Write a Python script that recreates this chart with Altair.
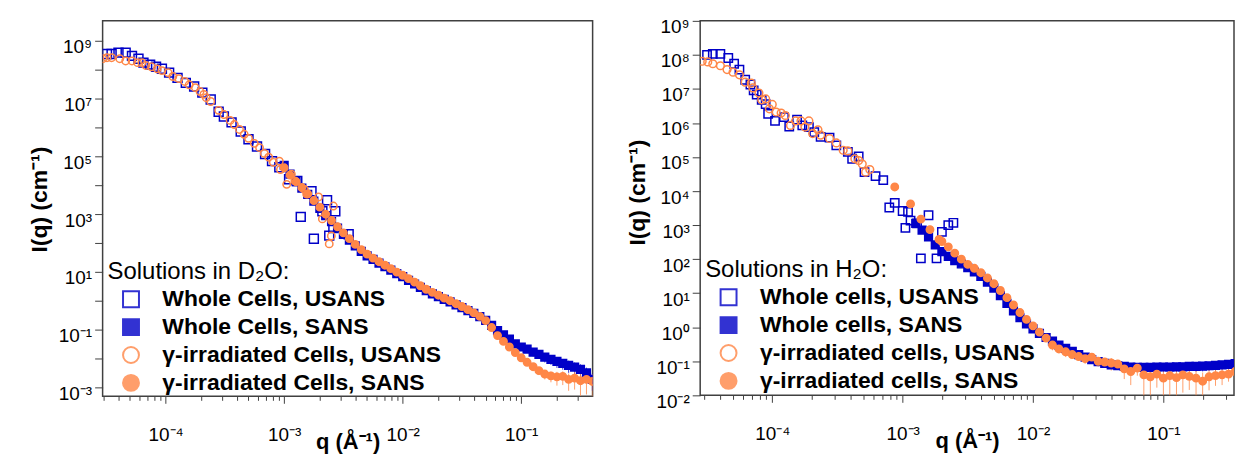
import altair as alt
import pandas as pd

FONT = "Liberation Sans"
BLUE = "#0000C8"
ORANGE = "#FF8747"
FRAME = "#404040"

# ----------------------------- D2O panel (left) -----------------------------
d2o_names = ["Whole Cells, USANS", "Whole Cells, SANS",
             "γ-irradiated Cells, USANS", "γ-irradiated Cells, SANS"]

d2o_whole_usans_q = [3.2e-5, 3.5e-5, 4.0e-5, 4.6e-5, 5.2e-5, 5.9e-5, 6.5e-5, 7.4e-5, 8.3e-5, 9.3e-5,
                     1.07e-4, 1.26e-4, 1.48e-4, 1.74e-4, 2.04e-4, 2.4e-4, 2.8e-4, 3.1e-4, 3.6e-4, 4.3e-4,
                     5.0e-4, 5.9e-4, 6.9e-4, 7.9e-4, 9.1e-4, 1.1e-3, 1.29e-3, 1.38e-3, 1.7e-3, 2.1e-3,
                     2.3e-3, 2.7e-3, 2.6e-3, 1.78e-3, 2.4e-3, 3.5e-3]
d2o_whole_usans_I = [3.5e8, 3.5e8, 3.9e8, 3.9e8, 3.0e8, 2.4e8, 1.75e8, 1.5e8, 1.26e8, 1.07e8,
                     7.9e7, 5.2e7, 3.5e7, 2.6e7, 1.6e7, 9.3e6, 3.5e6, 2.4e6, 1.5e6, 7.2e5,
                     3.9e5, 2.2e5, 1.2e5, 6.8e4, 4.2e4, 1.6e4, 1.4e4, 8.0e2, 6.2e3, 1.26e3,
                     3.0e3, 1.26e3, 3.3e2, 1.4e2, 1.8e2, 2.0e2]

d2o_gamma_usans_q = [2.95e-5, 3.2e-5, 3.5e-5, 4.1e-5, 4.6e-5, 5.2e-5, 5.8e-5, 6.3e-5, 6.8e-5, 7.6e-5,
                     8.5e-5, 9.3e-5, 1.05e-4, 1.15e-4, 1.29e-4, 1.45e-4, 1.58e-4, 1.78e-4, 1.95e-4, 2.1e-4,
                     2.2e-4, 2.4e-4, 2.8e-4, 3.1e-4, 3.5e-4, 3.8e-4, 4.2e-4, 4.6e-4, 5.0e-4, 5.6e-4,
                     6.2e-4, 6.8e-4, 7.4e-4, 8.1e-4, 9.1e-4, 9.3e-4,
                     1.05e-3, 1.15e-3, 1.23e-3, 1.48e-3, 1.55e-3, 1.95e-3, 2.1e-3, 2.6e-3, 2.5e-3, 2.4e-3]
d2o_gamma_usans_I = [2.4e8, 2.6e8, 2.6e8, 2.4e8, 2.0e8, 2.0e8, 1.75e8, 1.75e8, 1.4e8, 1.26e8,
                     1.07e8, 9.3e7, 7.9e7, 5.8e7, 4.9e7, 3.9e7, 3.0e7, 2.4e7, 1.75e7, 1.4e7,
                     1.07e7, 7.9e6, 3.9e6, 2.8e6, 1.75e6, 1.26e6, 8.5e5, 5.8e5, 4.2e5, 2.8e5,
                     2.0e5, 1.26e5, 9.3e4, 6.2e4, 6.8e4, 3.5e4,
                     1.07e4, 2.4e4, 1.4e4, 7.2e3, 4.9e3, 3.9e3, 6.8e2, 1.9e3, 1.75e2, 93]

d2o_sans_q = [1.00e-3, 1.12e-3, 1.26e-3, 1.41e-3, 1.58e-3, 1.78e-3, 2.00e-3, 2.24e-3, 2.51e-3, 2.82e-3,
              3.16e-3, 3.55e-3, 3.98e-3, 4.47e-3, 5.01e-3, 5.62e-3, 6.31e-3, 7.08e-3, 7.94e-3, 8.91e-3,
              1.00e-2, 1.12e-2, 1.26e-2, 1.41e-2, 1.58e-2, 1.78e-2, 2.00e-2, 2.24e-2, 2.51e-2, 2.82e-2,
              3.16e-2, 3.55e-2, 3.98e-2, 4.47e-2, 5.01e-2, 5.62e-2, 6.31e-2, 7.08e-2, 7.94e-2, 8.91e-2,
              0.100, 0.112, 0.126, 0.141, 0.158, 0.178, 0.200, 0.224, 0.251, 0.282,
              0.316, 0.355, 0.398]
d2o_whole_sans_I = [4.9e4, 2.4e4, 1.32e4, 7.9e3, 4.8e3, 2.8e3, 1.58e3, 890, 550, 330,
                    200, 126, 79, 51, 36, 27, 20, 15, 11.5, 8.7,
                    6.8, 5.1, 3.8, 2.9, 2.24, 1.74, 1.38, 1.12, 0.91, 0.72,
                    0.575, 0.457, 0.363, 0.282, 0.209, 0.141, 0.093, 0.066, 0.047, 0.032,
                    0.025, 0.021, 0.0166, 0.0138, 0.0112, 0.0093, 0.0079, 0.0068, 0.0058, 0.0050,
                    0.0042, 0.0032, 0.0019]
d2o_whole_sans_err = [0.0] * 36 + [0.05, 0.08, 0.1, 0.15, 0.2, 0.25, 0.3, 0.3, 0.35, 0.35,
                                   0.4, 0.4, 0.45, 0.45, 0.5, 0.5, 0.6]
d2o_gamma_sans_I = [4.0e4, 2.24e4, 1.32e4, 8.3e3, 5.0e3, 2.95e3, 1.74e3, 1.0e3, 600, 363,
                    224, 141, 89, 59, 41, 30, 22.4, 17, 12.9, 9.8,
                    7.6, 5.8, 4.4, 3.3, 2.5, 1.95, 1.55, 1.23, 1.0, 0.79,
                    0.63, 0.49, 0.38, 0.288, 0.205, 0.118, 0.062, 0.039, 0.025, 0.0160,
                    0.0106, 0.0074, 0.0052, 0.0038, 0.0029, 0.0025, 0.0023, 0.0024, 0.0019, 0.0021,
                    0.0017, 0.0019, 0.0016]
d2o_gamma_sans_err = [0.0] * 40 + [0.1, 0.15, 0.2, 0.3, 0.35, 0.4, 0.5, 0.5, 0.6, 0.6,
                                   0.7, 0.7, 0.8]

# ----------------------------- H2O panel (right) -----------------------------
h2o_names = ["Whole cells, USANS", "Whole cells, SANS",
             "γ-irradiated cells, USANS", "γ-irradiated cells, SANS"]

h2o_whole_usans_q = [3.16e-5, 3.5e-5, 4.0e-5, 4.6e-5, 5.1e-5, 5.6e-5, 6.2e-5, 6.8e-5, 7.2e-5, 7.6e-5,
                     8.3e-5, 8.9e-5, 9.3e-5, 1.05e-4, 1.23e-4, 1.35e-4, 1.55e-4, 1.70e-4, 1.91e-4, 2.1e-4,
                     2.35e-4, 2.75e-4, 3.1e-4, 3.8e-4, 4.1e-4, 4.6e-4, 5.1e-4, 6.2e-4, 7.1e-4, 7.9e-4,
                     8.7e-4, 1.0e-3, 1.1e-3, 1.15e-3, 1.05e-3, 1.29e-3, 1.58e-3, 2.0e-3, 2.24e-3, 2.45e-3,
                     1.38e-3, 1.82e-3]
h2o_whole_usans_I = [1.0e8, 1.07e8, 1.07e8, 8.1e7, 5.5e7, 3.7e7, 1.86e7, 1.35e7, 9.1e6, 6.8e6,
                     4.8e6, 3.6e6, 1.86e6, 1.15e6, 1.48e6, 7.9e5, 1.26e6, 8.5e5, 7.6e5, 5.4e5,
                     3.9e5, 3.7e5, 2.2e5, 1.41e5, 8.9e4, 1.05e5, 3.6e4, 2.75e4, 2.1e4, 3.3e3,
                     4.5e3, 2.6e3, 2.45e3, 1.35e3, 830, 1.12e3, 1.95e3, 630, 1.0e3, 1.17e3,
                     105, 105]

h2o_gamma_usans_q = [2.9e-5, 3.2e-5, 3.5e-5, 4.0e-5, 4.5e-5, 5.0e-5, 5.6e-5, 6.2e-5, 6.9e-5, 7.1e-5,
                     7.9e-5, 8.3e-5, 8.9e-5, 1.0e-4, 9.5e-5, 1.07e-4, 1.17e-4, 1.26e-4, 1.38e-4, 1.51e-4,
                     1.66e-4, 1.78e-4, 1.91e-4, 2.04e-4, 2.24e-4, 2.35e-4, 2.75e-4, 3.1e-4, 3.5e-4, 3.8e-4,
                     4.3e-4, 4.6e-4, 4.9e-4, 5.2e-4, 5.6e-4]
h2o_gamma_usans_I = [6.5e7, 6.2e7, 5.5e7, 4.8e7, 3.7e7, 3.1e7, 2.6e7, 1.58e7, 1.48e7, 1.07e7,
                     7.6e6, 4.8e6, 5.1e6, 3.5e6, 2.6e6, 2.1e6, 1.95e6, 1.66e6, 8.5e5, 1.15e6,
                     1.15e6, 7.6e5, 1.15e6, 4.9e5, 6.3e5, 4.4e5, 3.5e5, 2.6e5, 1.58e5, 1.51e5,
                     8.9e4, 7.9e4, 6.2e4, 3.6e4, 4.3e4]

h2o_whole_sans_q = [1.26e-3, 1.41e-3, 1.58e-3, 1.78e-3, 2.00e-3, 2.24e-3, 2.51e-3, 2.82e-3,
                    3.16e-3, 3.55e-3, 3.98e-3, 4.47e-3, 5.01e-3, 5.62e-3, 6.31e-3, 7.08e-3, 7.94e-3, 8.91e-3,
                    1.00e-2, 1.12e-2, 1.26e-2, 1.41e-2, 1.58e-2, 1.78e-2, 2.00e-2, 2.24e-2, 2.51e-2, 2.82e-2,
                    3.16e-2, 3.55e-2, 3.98e-2, 4.47e-2, 5.01e-2, 5.62e-2, 6.31e-2, 7.08e-2, 7.94e-2, 8.91e-2,
                    0.100, 0.112, 0.126, 0.141, 0.158, 0.178, 0.200, 0.224, 0.251, 0.282, 0.316, 0.355]
h2o_whole_sans_I = [1120, 710, 450, 263, 166, 120, 91, 72,
                    56, 42, 31, 21, 14.1, 8.5, 5.0, 3.0, 1.9, 1.26,
                    0.89, 0.66, 0.50, 0.39, 0.30, 0.24, 0.195, 0.158, 0.132, 0.112,
                    0.098, 0.087, 0.079, 0.074, 0.071, 0.068, 0.066, 0.066, 0.066, 0.068,
                    0.068, 0.068, 0.069, 0.069, 0.071, 0.071, 0.072, 0.074, 0.076, 0.078, 0.081, 0.085]
h2o_whole_sans_err = [0.0] * 28 + [0.1, 0.12, 0.15, 0.18, 0.2, 0.22, 0.25, 0.25, 0.28, 0.3,
                                   0.3, 0.3, 0.3, 0.3, 0.3, 0.3, 0.3, 0.3, 0.3, 0.3, 0.3, 0.3]

h2o_gamma_sans_q = [8.7e-4, 1.15e-3, 1.38e-3, 1.62e-3, 1.9e-3,
                    2.00e-3, 2.24e-3, 2.51e-3, 2.82e-3,
                    3.16e-3, 3.55e-3, 3.98e-3, 4.47e-3, 5.01e-3, 5.62e-3, 6.31e-3, 7.08e-3, 7.94e-3, 8.91e-3,
                    1.00e-2, 1.12e-2, 1.26e-2, 1.41e-2, 1.58e-2, 1.78e-2, 2.00e-2, 2.24e-2, 2.51e-2, 2.82e-2,
                    3.16e-2, 3.55e-2, 3.98e-2, 4.47e-2, 5.01e-2, 5.62e-2, 6.31e-2, 7.08e-2, 7.94e-2, 8.91e-2,
                    0.100, 0.112, 0.126, 0.141, 0.158, 0.178, 0.200, 0.224, 0.251, 0.282, 0.316, 0.355]
h2o_gamma_sans_I = [1.32e4, 4.2e3, 1.5e3, 740, 380,
                    330, 230, 150, 100,
                    70, 54, 40, 28, 19, 12, 7.4, 4.5, 2.7, 1.7,
                    1.1, 0.72, 0.48, 0.30, 0.23, 0.19, 0.158, 0.138, 0.12, 0.132,
                    0.100, 0.095, 0.089, 0.083, 0.060, 0.050, 0.063, 0.040, 0.035, 0.042,
                    0.032, 0.038, 0.033, 0.040, 0.036, 0.032, 0.026, 0.035, 0.038, 0.040, 0.042, 0.050]
h2o_gamma_sans_err = [0.0] * 21 + [0.2, 0.3, 0.2, 0.3, 0.2, 0.2, 0.3, 0.2, 0.3, 0.3,
                                   0.4, 0.3, 0.5, 0.6, 0.4, 0.8, 0.8, 0.6, 0.8, 0.8,
                                   0.8, 0.7, 0.6, 0.8, 0.8, 0.6, 0.5, 0.5, 0.4, 0.4]

# ----------------------------- axes: ticks and labels -----------------------------
d2o_x_domain = [2.94e-5, 0.400]
h2o_x_domain = [2.80e-5, 0.348]
d2o_y_domain = [4.9e-4, 4.9e9]
h2o_y_domain = [1e-2, 1e9]

x_tick_values = [3e-5, 4e-5, 5e-5, 6e-5, 7e-5, 8e-5, 9e-5,
                 1e-4, 2e-4, 3e-4, 4e-4, 5e-4, 6e-4, 7e-4, 8e-4, 9e-4,
                 1e-3, 2e-3, 3e-3, 4e-3, 5e-3, 6e-3, 7e-3, 8e-3, 9e-3,
                 1e-2, 2e-2, 3e-2, 4e-2, 5e-2, 6e-2, 7e-2, 8e-2, 9e-2,
                 0.1, 0.2, 0.3]
x_label_values = [1e-4, 1e-3, 1e-2, 1e-1]
x_labels = ["10⁻⁴", "10⁻³", "10⁻²", "10⁻¹"]

d2o_y_ticks = [1e-3, 1e-2, 1e-1, 1e0, 1e1, 1e2, 1e3, 1e4, 1e5, 1e6, 1e7, 1e8, 1e9]
d2o_y_label_values = [1e-3, 1e-1, 1e1, 1e3, 1e5, 1e7, 1e9]
d2o_y_labels = ["10⁻³", "10⁻¹", "10¹", "10³", "10⁵", "10⁷", "10⁹"]

h2o_y_ticks = [1e-2, 1e-1, 1e0, 1e1, 1e2, 1e3, 1e4, 1e5, 1e6, 1e7, 1e8, 1e9]
h2o_y_labels = ["10⁻²", "10⁻¹", "10⁰", "10¹", "10²", "10³", "10⁴", "10⁵", "10⁶", "10⁷", "10⁸", "10⁹"]


def label_expr(values, labels):
    expr = "''"
    for v, lab in reversed(list(zip(values, labels))):
        expr = f"abs(datum.value / {v!r} - 1) < 1e-6 ? '{lab}' : ({expr})"
    return expr


MAJOR_TEST = "abs(log(datum.value) / LN10 - round(log(datum.value) / LN10)) < 1e-6"


def build_frame(names, groups):
    rows = []
    for name, (qs, vals, errs, size, col) in zip(names, groups):
        for k, (q, v) in enumerate(zip(qs, vals)):
            r = errs[k] if errs is not None else 0.0
            rows.append({"series": name, "q": q, "I": v, "sz": size, "col": col,
                         "err": r, "lo": v * (1 - r), "hi": v * (1 + r)})
    return pd.DataFrame(rows)


def panel(df, names, legend_title, xdom, ydom, y_ticks, y_lab_vals, y_labs,
          width, height, legend_y, ytitle_y):
    x_axis = alt.Axis(values=x_tick_values, labelExpr=label_expr(x_label_values, x_labels),
                      tickSize={"condition": {"test": MAJOR_TEST, "value": 7}, "value": 4},
                      labelPadding=37, labelBaseline="alphabetic", labelOverlap=False,
                      labelFlush=False, domain=False, grid=False,
                      title="q (Å⁻¹)", titleY=52, titleBaseline="alphabetic")
    y_axis = alt.Axis(values=y_ticks, labelExpr=label_expr(y_lab_vals, y_labs),
                      tickSize=8, labelPadding=3, labelBaseline="alphabetic", labelOffset=12,
                      labelOverlap=False, domain=False, grid=False,
                      title="I(q) (cm⁻¹)", titleX=-56, titleY=ytitle_y, titleFontSize=23,
                      titleBaseline="alphabetic", titleAlign="center", titleAngle=-90)
    xs = alt.Scale(type="log", domain=xdom, nice=False)
    ys = alt.Scale(type="log", domain=ydom, nice=False)
    legend = alt.Legend(title=legend_title, orient="none", legendX=5, legendY=legend_y,
                        symbolSize=256, symbolStrokeWidth=2, symbolOffset=12, labelOffset=20,
                        rowPadding=3, titlePadding=4, padding=0,
                        labelFontSize=23, labelFontWeight="bold", labelFont=FONT,
                        titleFontSize=24, titleFontWeight="normal", titleFont=FONT,
                        titleColor="black", labelColor="black", titleLimit=400, labelLimit=400)
    color = alt.Color("series:N", scale=alt.Scale(domain=names, range=[BLUE, BLUE, ORANGE, ORANGE]),
                      legend=legend)
    shape = alt.Shape("series:N", scale=alt.Scale(domain=names, range=["square", "square", "circle", "circle"]),
                      legend=legend)
    fill = alt.Fill("series:N", scale=alt.Scale(domain=names, range=["transparent", BLUE, "transparent", ORANGE]),
                    legend=legend)
    bars = alt.Chart(df).transform_filter("datum.err > 0").mark_rule(strokeWidth=1, opacity=0.8, clip=True).encode(
        x=alt.X("q:Q", scale=xs, axis=x_axis),
        y=alt.Y("lo:Q", scale=ys, axis=y_axis),
        y2="hi:Q",
        color=alt.Color("col:N", scale=None),
    )
    pts = alt.Chart(df).mark_point(opacity=1, strokeWidth=1.5, clip=True).encode(
        x=alt.X("q:Q", scale=xs, axis=x_axis),
        y=alt.Y("I:Q", scale=ys, axis=y_axis),
        color=color, shape=shape, fill=fill,
        size=alt.Size("sz:Q", scale=None),
    )
    return alt.layer(bars, pts).properties(width=width, height=height)


d2o_df = build_frame(d2o_names, [
    (d2o_whole_usans_q, d2o_whole_usans_I, None, 80, BLUE),
    (d2o_sans_q, d2o_whole_sans_I, d2o_whole_sans_err, 60, BLUE),
    (d2o_gamma_usans_q, d2o_gamma_usans_I, None, 55, ORANGE),
    (d2o_sans_q, d2o_gamma_sans_I, d2o_gamma_sans_err, 55, ORANGE),
])
h2o_df = build_frame(h2o_names, [
    (h2o_whole_usans_q, h2o_whole_usans_I, None, 70, BLUE),
    (h2o_whole_sans_q, h2o_whole_sans_I, h2o_whole_sans_err, 60, BLUE),
    (h2o_gamma_usans_q, h2o_gamma_usans_I, None, 60, ORANGE),
    (h2o_gamma_sans_q, h2o_gamma_sans_I, h2o_gamma_sans_err, 55, ORANGE),
])

left = panel(d2o_df, d2o_names, "Solutions in D₂O:", d2o_x_domain, d2o_y_domain,
             d2o_y_ticks, d2o_y_label_values, d2o_y_labels, 492, 377, 240, 179)
right = panel(h2o_df, h2o_names, "Solutions in H₂O:", h2o_x_domain, h2o_y_domain,
              h2o_y_ticks, h2o_y_ticks, h2o_y_labels, 536, 376, 238, 172)

chart = alt.hconcat(left, right, spacing=108, bounds="flush").resolve_scale(
    color="independent", shape="independent", fill="independent",
    x="independent", y="independent",
).properties(
    padding={"left": 20, "top": 8, "right": 0, "bottom": 0},
).configure(
    font=FONT,
).configure_view(
    stroke=FRAME, strokeWidth=1.5,
).configure_axis(
    labelFont=FONT, labelFontSize=19, labelColor="black",
    titleFont=FONT, titleFontSize=22, titleFontWeight="bold", titleColor="black",
    tickColor=FRAME, tickWidth=1,
)

chart.save("out.html", embed_options={"renderer": "svg", "actions": False})
